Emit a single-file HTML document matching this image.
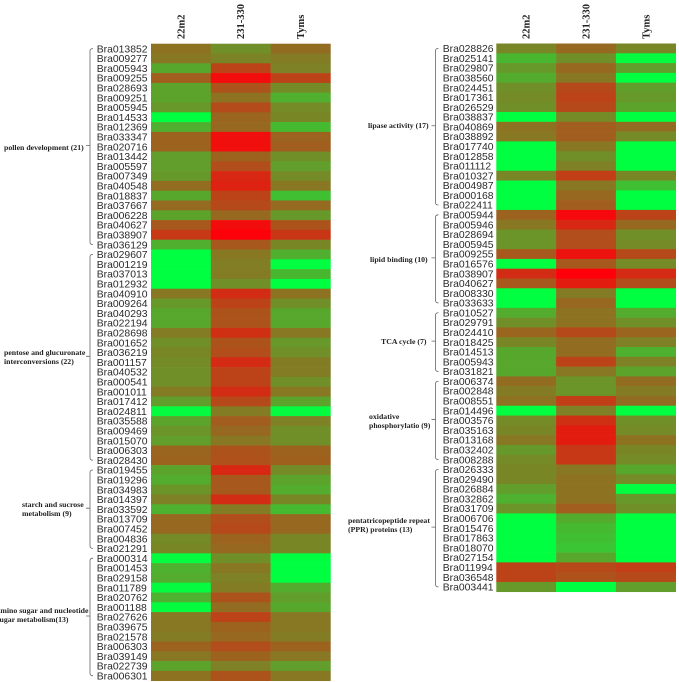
<!DOCTYPE html>
<html>
<head>
<meta charset="utf-8">
<title>Gene expression heatmap</title>
<style>
html,body{margin:0;padding:0;background:#fff;}
body{width:679px;height:682px;overflow:hidden;}
svg{display:block;filter:blur(0.35px);}
.gene{font-family:"Liberation Sans",sans-serif;font-size:10.4px;fill:#2a2a2a;}
.col{font-family:"Liberation Serif",serif;font-size:10.5px;font-weight:bold;fill:#222;}
.grp{font-family:"Liberation Serif",serif;font-size:7.8px;font-weight:bold;fill:#222;}
</style>
</head>
<body>
<svg id="chart" width="679" height="682" viewBox="0 0 679 682" xmlns="http://www.w3.org/2000/svg">
  <g id="left-panel"></g>
  <g id="right-panel"></g>
  <g>
    <text class="grp" x="4" y="150">pollen development (21)</text>
    <text class="grp" x="4" y="355">pentose and glucuronate</text>
    <text class="grp" x="4" y="364">interconversions (22)</text>
    <text class="grp" x="22" y="507">starch and sucrose</text>
    <text class="grp" x="22" y="516">metabolism (9)</text>
    <text class="grp" x="-3.5" y="613">amino sugar and nucleotide</text>
    <text class="grp" x="-3.5" y="622">sugar metabolism(13)</text>
  </g>
  <g>
    <text class="grp" x="368" y="128">lipase activity (17)</text>
    <text class="grp" x="370" y="262">lipid binding (10)</text>
    <text class="grp" x="381" y="344">TCA cycle (7)</text>
    <text class="grp" x="369" y="419">oxidative</text>
    <text class="grp" x="369" y="428">phosphorylatio (9)</text>
    <text class="grp" x="348" y="523">pentatricopeptide repeat</text>
    <text class="grp" x="348" y="532">(PPR) proteins (13)</text>
  </g>
</svg>
<script>
// Column headers
const sampleNames = ['22m2', '231-330', 'Tyms'];

// Left panel: categories
const leftGenes = ['Bra013852','Bra009277','Bra005943','Bra009255','Bra028693','Bra009251','Bra005945','Bra014533','Bra012369','Bra033347','Bra020716','Bra013442','Bra005597','Bra007349','Bra040548','Bra018837','Bra037667','Bra006228','Bra040627','Bra038907','Bra036129',
'Bra029607','Bra001219','Bra037013','Bra012932','Bra040910','Bra009264','Bra040293','Bra022194','Bra028698','Bra001652','Bra036219','Bra001157','Bra040532','Bra000541','Bra001011','Bra017412','Bra024811','Bra035588','Bra009469','Bra015070','Bra006303','Bra028430',
'Bra019455','Bra019296','Bra034983','Bra014397','Bra033592','Bra013709','Bra007452','Bra004836','Bra021291',
'Bra000314','Bra001453','Bra029158','Bra011789','Bra020762','Bra001188','Bra027626','Bra039675','Bra021578','Bra006303','Bra039149','Bra022739','Bra006301'];
const leftGroupSizes = [21, 22, 9, 13];

// Left panel: values, 0 = full red, 100 = full green
const left22m2 = [40,42,62,32,60,60,55,100,65,34,34,58,58,56,38,62,37,60,30,18,65,
100,100,100,100,42,56,62,62,44,52,48,50,52,52,44,58,98,60,54,58,35,34,
60,64,54,46,66,36,36,50,48,
98,66,64,98,66,98,42,42,44,34,42,60,40];
const left231 = [52,47,22,3,28,40,25,35,36,4,4,34,26,12,10,22,24,36,3,0,30,
42,45,44,52,14,22,28,28,15,28,26,13,22,22,14,24,44,32,36,42,28,27,
12,30,30,14,44,26,24,34,36,
52,42,46,44,28,38,22,34,36,26,34,46,28];
const leftTyms = [38,44,46,22,50,65,50,48,70,34,32,52,58,50,42,72,37,56,28,17,48,
65,100,68,100,40,52,62,62,42,55,52,44,44,52,42,60,98,46,52,52,34,33,
50,60,64,48,70,36,36,48,48,
100,100,100,64,58,62,42,42,44,34,42,58,42];

// Right panel: categories
const rightGenes = ['Bra028826','Bra025141','Bra029807','Bra038560','Bra024451','Bra017361','Bra026529','Bra038837','Bra040869','Bra038892','Bra017740','Bra012858','Bra011112','Bra010327','Bra004987','Bra000168','Bra022411',
'Bra005944','Bra005946','Bra028694','Bra005945','Bra009255','Bra016576','Bra038907','Bra040627','Bra008330','Bra033633',
'Bra010527','Bra029791','Bra024410','Bra018425','Bra014513','Bra005943','Bra031821',
'Bra006374','Bra002848','Bra008551','Bra014496','Bra003576','Bra035163','Bra013168','Bra032402','Bra008288',
'Bra026333','Bra029490','Bra026884','Bra032862','Bra031709','Bra006706','Bra015476','Bra017863','Bra018070','Bra027154','Bra011994','Bra036548','Bra003441'];
const rightGroupSizes = [17, 10, 7, 9, 13];

// Right panel: values, 0 = full red, 100 = full green
const right22m2 = [48,68,56,64,52,50,52,100,40,42,100,100,100,48,100,100,100,
34,42,54,54,30,100,14,30,100,100,
64,52,35,48,62,62,62,
38,44,40,100,50,48,42,56,50,
48,48,58,66,54,100,100,100,100,100,22,22,56];
const right231 = [36,52,36,42,24,22,24,50,32,32,42,52,46,20,42,36,32,
2,12,26,26,5,30,0,8,44,36,
40,40,24,38,38,22,42,
54,54,20,46,15,8,8,18,18,
42,40,40,40,32,64,70,72,74,62,24,27,100];
const rightTyms = [48,98,58,100,58,56,60,100,38,50,100,100,100,48,72,100,100,
22,36,52,50,24,50,13,26,100,100,
64,52,35,46,66,46,60,
38,44,38,100,52,50,40,48,50,
62,50,100,56,52,100,100,100,100,100,20,24,58];

const SVG_NS = 'http://www.w3.org/2000/svg';

function colorFor(v) {
  const t = Math.pow(Math.max(0, Math.min(100, v)) / 100, 0.88);
  const r = Math.round(255 * (1 - t));
  const g = Math.round(255 * t);
  const b = Math.round(10 + 54 * t);
  return 'rgb(' + r + ',' + g + ',' + b + ')';
}

function drawPanel(parent, geom, genes, groupSizes, columns) {
  const xScale = function (c) { return geom.left + c * geom.colWidth; };
  const yScale = function (r) { return geom.top + r * geom.rowHeight; };

  columns.forEach(function (values, c) {
    const head = document.createElementNS(SVG_NS, 'text');
    
    
    head.setAttribute('class', 'col');
    head.setAttribute('text-anchor', 'start');
    const hx = xScale(c) + geom.colWidth / 2 + 3.5;
    head.setAttribute('transform', 'translate(' + hx + ',39) rotate(-90)');
    head.textContent = sampleNames[c];
    parent.appendChild(head);

    values.forEach(function (v, r) {
      const cell = document.createElementNS(SVG_NS, 'rect');
      
      
      cell.setAttribute('x', xScale(c));
      cell.setAttribute('y', yScale(r));
      cell.setAttribute('width', geom.colWidth + 0.3);
      cell.setAttribute('height', geom.rowHeight + 0.3);
      cell.setAttribute('fill', colorFor(v));
      parent.appendChild(cell);
    });
  });

  genes.forEach(function (g, r) {
    const label = document.createElementNS(SVG_NS, 'text');
    
    
    label.setAttribute('class', 'gene');
    label.setAttribute('x', geom.labelX);
    label.setAttribute('y', yScale(r) + geom.rowHeight / 2 + 3.7);
    label.textContent = g;
    parent.appendChild(label);
  });

  let start = 0;
  groupSizes.forEach(function (size) {
    const y0 = yScale(start) + geom.rowHeight / 2;
    const y1 = yScale(start + size - 1) + geom.rowHeight / 2;
    const ym = (y0 + y1) / 2 - 1;
    const bx = geom.bracketX;
    const d = 'M' + (bx + 3) + ' ' + y0 + ' Q' + bx + ' ' + y0 + ' ' + bx + ' ' + (y0 + 2.5) +
      ' L' + bx + ' ' + (y1 - 2.5) + ' Q' + bx + ' ' + y1 + ' ' + (bx + 3) + ' ' + y1 +
      ' M' + bx + ' ' + ym + ' L' + (bx - 4) + ' ' + ym;
    const bracket = document.createElementNS(SVG_NS, 'path');
    
    
    bracket.setAttribute('d', d);
    bracket.setAttribute('fill', 'none');
    bracket.setAttribute('stroke', '#666');
    bracket.setAttribute('stroke-width', '0.8');
    parent.appendChild(bracket);
    start += size;
  });
}

drawPanel(document.getElementById('left-panel'),
  { left: 151, top: 43.7, colWidth: 59.8, rowHeight: 9.8, labelX: 96.7, bracketX: 90 },
  leftGenes, leftGroupSizes, [left22m2, left231, leftTyms]);

drawPanel(document.getElementById('right-panel'),
  { left: 496.3, top: 43.5, colWidth: 59.8, rowHeight: 9.79, labelX: 442.7, bracketX: 435.5 },
  rightGenes, rightGroupSizes, [right22m2, right231, rightTyms]);
</script>
</body>
</html>
